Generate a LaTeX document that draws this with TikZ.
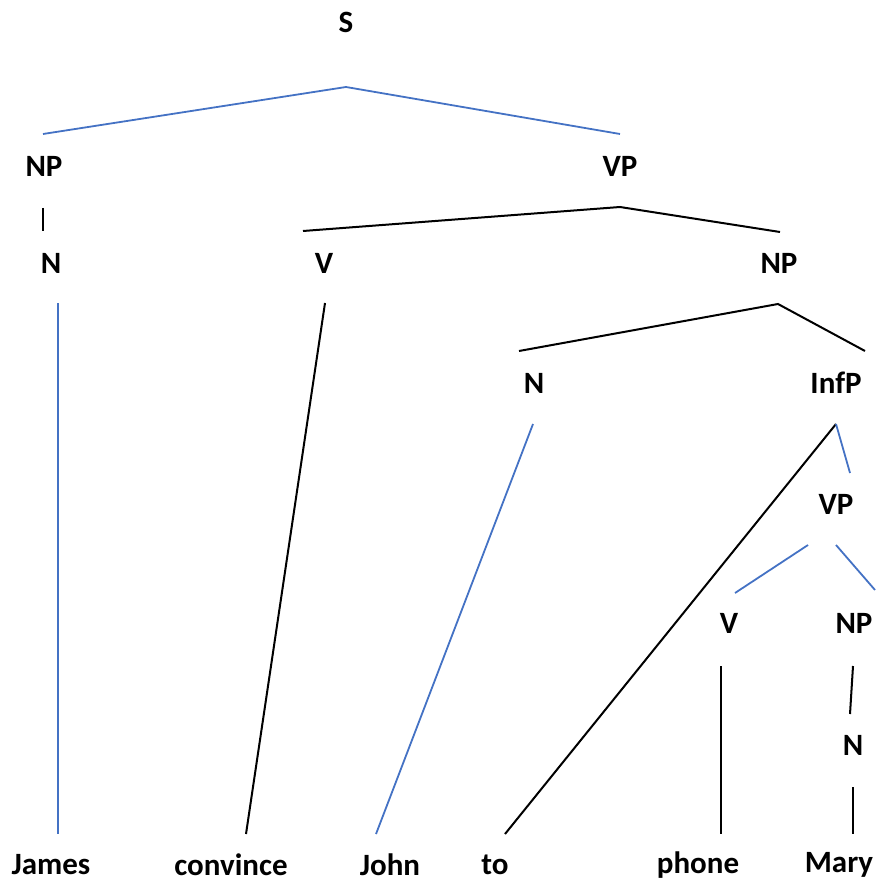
\documentclass[tikz,border=0pt]{standalone}
\usepackage{fontspec}
\setmainfont{Carlito}
\usepackage{tikz}
\definecolor{treeblue}{HTML}{4472C4}

\begin{document}
\begin{tikzpicture}[x=1pt, y=-1pt,
		lbl/.style={font=\fontsize{31}{34}\selectfont\bfseries, inner sep=0pt},
		bl/.style={treeblue, line width=1.8pt},
		bk/.style={black, line width=2pt}]
			\useasboundingbox (0,0) rectangle (875,882);

			% Labels
			\node[lbl] (S) at (346,22) {S};
			\node[lbl] (NPa) at (44,166) {NP};
			\node[lbl] (VPa) at (620,166) {VP};
			\node[lbl] (Na) at (51,263) {N};
			\node[lbl] (Va) at (324,263) {V};
			\node[lbl] (NPb) at (779,263) {NP};
			\node[lbl] (Nb) at (534,383) {N};
			\node[lbl] (InfP) at (836,383) {InfP};
			\node[lbl] (VPb) at (836,504) {VP};
			\node[lbl] (Vb) at (729,623) {V};
			\node[lbl] (NPc) at (854,623) {NP};
			\node[lbl] (Nc) at (853,745) {N};

			% Words
			\node[lbl] (James) at (51,865) {James};
			\node[lbl] (convince) at (231,865) {convince};
			\node[lbl] (John) at (390,865) {John};
			\node[lbl] (to) at (495,865) {to};
			\node[lbl] (phone) at (698,865) {phone};
			\node[lbl] (Mary) at (839,865) {Mary};

			% Branches
			\draw[bl] ([xshift=-1,yshift=32]NPa.center) -- ([yshift=-65]S.center) -- ([yshift=32]VPa.center);
			\draw[bk] ([xshift=-1,yshift=-42]NPa.center) -- ([xshift=-8,yshift=32]Na.center);
			\draw[bk] ([xshift=-21,yshift=32]Va.center) -- ([yshift=-41]VPa.center) -- ([xshift=1,yshift=31]NPb.center);
			\draw[bl] ([xshift=7,yshift=-40]Na.center) -- ([xshift=7,yshift=31]James.center);
			\draw[bk] ([xshift=1,yshift=-40]Va.center) -- ([xshift=15,yshift=31]convince.center);
			\draw[bk] ([xshift=-15,yshift=32]Nb.center) -- ([xshift=-1,yshift=-41]NPb.center) -- ([xshift=29,yshift=32]InfP.center);
			\draw[bl] ([xshift=-1,yshift=-41]Nb.center) -- ([xshift=-14,yshift=31]John.center);
			\draw[bk] ([yshift=-41]InfP.center) -- ([xshift=10,yshift=31]to.center);
			\draw[bl] ([yshift=-41]InfP.center) -- ([xshift=14,yshift=31]VPb.center);
			\draw[bl] ([xshift=-28,yshift=-41]VPb.center) -- ([xshift=6,yshift=30]Vb.center);
			\draw[bl] ([yshift=-41]VPb.center) -- ([xshift=21,yshift=33]NPc.center);
			\draw[bk] ([xshift=-8,yshift=-43]Vb.center) -- ([xshift=23,yshift=31]phone.center);
			\draw[bk] ([xshift=-1,yshift=-43]NPc.center) -- ([xshift=-3,yshift=31]Nc.center);
			\draw[bk] ([yshift=-42]Nc.center) -- ([xshift=14,yshift=31]Mary.center);
		\end{tikzpicture}
\end{document}
